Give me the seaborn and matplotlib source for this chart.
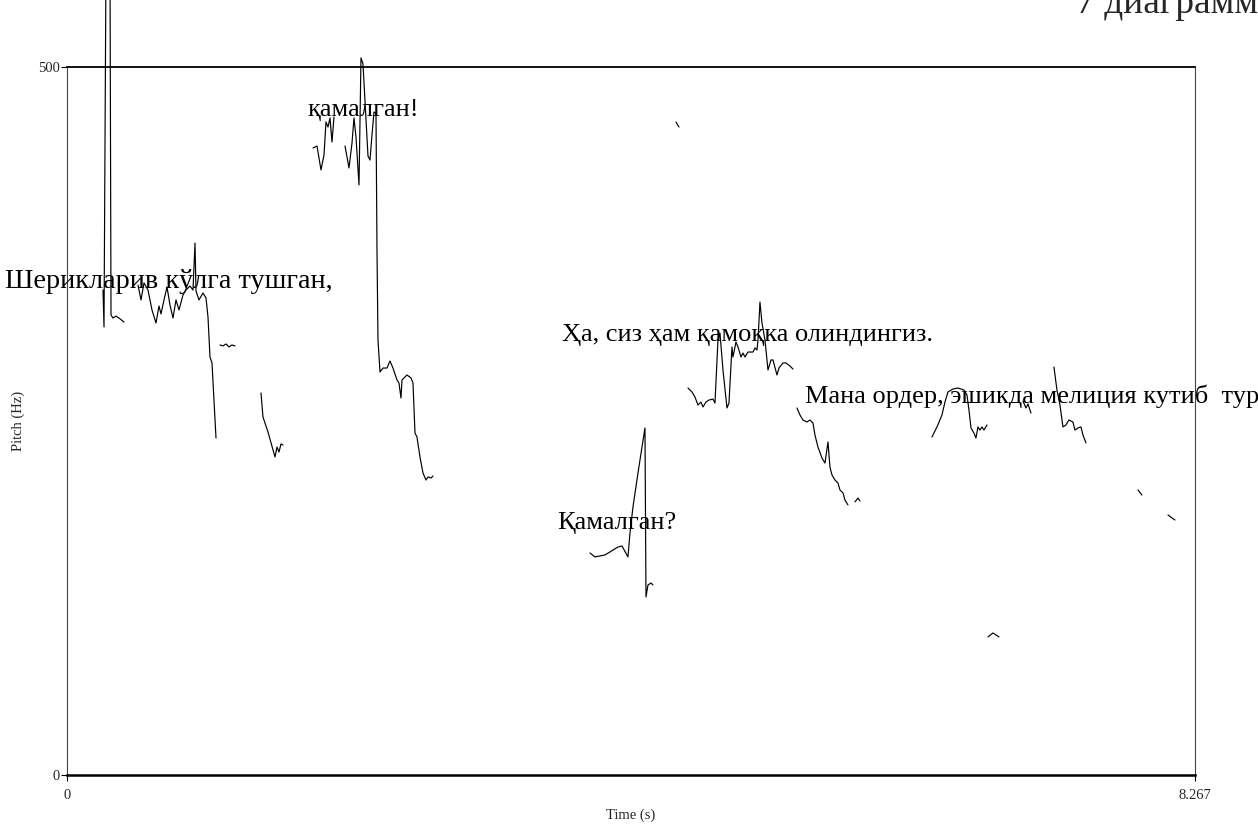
import numpy as np
import pandas as pd
import matplotlib
matplotlib.use("Agg")
import matplotlib.pyplot as plt
import seaborn as sns

# ---------------- data (time in s, pitch in Hz) ----------------
seg01_t = [0.2638, 0.2712, 0.2858, 0.3151, 0.3225, 0.3371, 0.3591, 0.3811, 0.4177]
seg01_f = [342.5, 316.4, 574.9, 574.9, 324.9, 322.7, 324.1, 322.7, 319.9]

seg02_t = [0.5203, 0.5423, 0.5643, 0.5936, 0.6229, 0.6522, 0.6742, 0.6889, 0.7109,
           0.7329, 0.7548, 0.7768, 0.7988, 0.8208, 0.8501, 0.8721, 0.9014, 0.9234,
           0.9381, 0.9454, 0.9674, 0.9967, 1.0187, 1.0333, 1.0480, 1.0626, 1.0920]
seg02_f = [346.0, 335.5, 347.5, 342.5, 328.4, 319.2, 331.2, 325.6, 335.5,
           344.6, 331.9, 322.7, 335.5, 328.4, 339.0, 342.5, 345.3, 342.5,
           375.7, 341.8, 335.5, 340.4, 336.9, 323.4, 295.2, 291.0, 238.0]

seg03_t = [1.1213, 1.1433, 1.1652, 1.1872, 1.2092, 1.2312]
seg03_f = [303.7, 303.0, 304.4, 302.3, 303.7, 303.0]

seg04_t = [1.4217, 1.4364, 1.4731, 1.5243, 1.5390, 1.5537, 1.5683, 1.5830]
seg04_f = [269.8, 252.8, 242.2, 224.6, 231.6, 228.1, 233.8, 233.0]

seg05_t = [1.8028, 1.8322, 1.8615, 1.8835, 1.8981, 1.9128, 1.9274, 1.9421, 1.9567]
seg05_f = [442.8, 444.2, 427.3, 437.9, 461.2, 457.6, 464.0, 447.0, 464.7]

seg06_t = [2.0374, 2.0667, 2.0887, 2.1033, 2.1180, 2.1400, 2.1546, 2.1693, 2.2059,
           2.2206, 2.2352, 2.2499, 2.2645, 2.2719, 2.2792, 2.2939, 2.3158, 2.3452,
           2.3671, 2.3891, 2.4184, 2.4331, 2.4477, 2.4551, 2.4771, 2.4917, 2.5210,
           2.5357, 2.5504, 2.5650, 2.5870, 2.6090, 2.6310, 2.6456, 2.6676, 2.6823]
seg06_f = [444.2, 428.7, 446.3, 464.0, 450.6, 416.7, 506.4, 502.1, 437.1,
           434.3, 452.0, 468.2, 467.5, 370.8, 307.2, 284.6, 287.4, 287.4,
           292.4, 287.4, 279.0, 276.8, 266.2, 279.0, 281.1, 282.5, 280.4,
           276.8, 241.5, 238.7, 224.6, 213.3, 208.3, 210.5, 209.7, 211.2]

seg07_t = [4.4631, 4.4851]
seg07_f = [461.2, 457.6]

seg08_t = [3.8329, 3.8695, 3.9061, 3.9428, 3.9794, 4.0014, 4.0381, 4.0674, 4.1113,
           4.1260, 4.1480, 4.1846, 4.2359, 4.2433, 4.2579, 4.2799, 4.2946]
seg08_f = [156.8, 154.0, 154.7, 155.4, 157.5, 158.9, 161.0, 161.7, 154.0,
           170.9, 189.3, 213.3, 245.1, 125.7, 134.2, 135.6, 134.2]

seg09_t = [4.5511, 4.5804, 4.6024, 4.6243, 4.6463, 4.6610, 4.6830, 4.7050, 4.7343,
           4.7489, 4.7709, 4.7856, 4.8076, 4.8369, 4.8515, 4.8735, 4.8809, 4.9028,
           4.9175, 4.9395, 4.9541, 4.9688, 4.9908, 5.0274, 5.0421, 5.0567, 5.0641,
           5.0787, 5.0934, 5.1154, 5.1374, 5.1593, 5.1740, 5.2033, 5.2180, 5.2473,
           5.2693, 5.2986, 5.3206]
seg09_f = [273.3, 270.5, 266.9, 261.3, 263.4, 259.9, 263.4, 264.8, 265.5,
           262.7, 307.2, 312.1, 286.0, 259.2, 262.7, 302.3, 295.2, 305.8,
           302.3, 295.2, 298.0, 295.2, 298.7, 298.7, 301.6, 300.1, 307.2,
           334.0, 319.2, 307.2, 286.0, 293.1, 293.1, 282.5, 287.4, 291.0,
           291.0, 288.8, 286.7]

seg10_t = [5.3499, 5.3719, 5.3938, 5.4232, 5.4451, 5.4671, 5.4818, 5.5038, 5.5331,
           5.5551, 5.5771, 5.5917, 5.6064, 5.6284, 5.6503, 5.6650, 5.6870, 5.7017, 5.7236]
seg10_f = [259.2, 254.2, 250.7, 249.3, 250.7, 248.6, 240.1, 231.6, 223.9,
           220.3, 235.2, 217.5, 211.9, 208.3, 206.2, 201.3, 199.2, 194.2, 190.7]

seg11_t = [5.7749, 5.7969, 5.8116]
seg11_f = [192.8, 195.6, 193.5]

seg12_t = [6.3392, 6.3759, 6.4125, 6.4345, 6.4565, 6.4931, 6.5298, 6.5738, 6.5957,
           6.6104, 6.6251, 6.6470, 6.6617, 6.6764, 6.6910, 6.7057, 6.7203, 6.7423]
seg12_f = [238.7, 245.8, 254.2, 263.4, 270.5, 272.6, 273.3, 271.9, 268.4,
           257.8, 245.1, 241.5, 238.0, 245.8, 243.6, 245.8, 243.6, 247.2]

seg13_t = [7.0061, 7.0281, 7.0428, 7.0648]
seg13_f = [264.1, 259.2, 262.0, 255.6]

seg14_t = [7.2333, 7.2553, 7.2773, 7.2993, 7.3212, 7.3432, 7.3725, 7.3872, 7.4092,
           7.4312, 7.4458, 7.4678]
seg14_f = [288.1, 271.9, 261.3, 245.8, 247.2, 250.7, 249.3, 243.6, 245.1,
           245.8, 240.1, 234.5]

seg15_t = [7.8489, 7.8782]
seg15_f = [201.3, 197.7]

seg16_t = [8.0688, 8.1201]
seg16_f = [183.6, 180.1]

seg17_t = [6.7496, 6.7862, 6.8303]
seg17_f = [97.5, 100.3, 97.5]

segments = [(seg01_t, seg01_f), (seg02_t, seg02_f), (seg03_t, seg03_f), (seg04_t, seg04_f),
            (seg05_t, seg05_f), (seg06_t, seg06_f), (seg07_t, seg07_f), (seg08_t, seg08_f),
            (seg09_t, seg09_f), (seg10_t, seg10_f), (seg11_t, seg11_f), (seg12_t, seg12_f),
            (seg13_t, seg13_f), (seg14_t, seg14_f), (seg15_t, seg15_f), (seg16_t, seg16_f),
            (seg17_t, seg17_f)]

labels_text = ["Шерикларив кўлга тушган,", "қамалган!", "Ҳа, сиз ҳам қамоқка олиндингиз.",
               "Мана ордер, эшикда мелиция кутиб  тур", "Қамалган?"]
labels_t = [-0.454, 1.766, 3.628, 5.409, 3.591]
labels_f = [348.2, 469.6, 310.7, 267.7, 178.0]
labels_size = [20.3, 19, 19, 19, 19]

x_ticks = [0, 8.267]
x_ticklabels = ["0", "8.267"]
y_ticks = [0, 500]
y_ticklabels = ["0", "500"]
title_text = "7 диаграмм"

# ---------------- plot ----------------
sns.set_style("white")
plt.rcParams['font.family'] = ['Liberation Serif', 'DejaVu Serif']

fig = plt.figure(figsize=(12.58, 8.26), dpi=100)
ax = fig.add_axes([67 / 1258, 1 - 775 / 826, (1195 - 67) / 1258, (775 - 67) / 826])

rows = []
for i, (ts, fs) in enumerate(segments):
    for t, f in zip(ts, fs):
        rows.append({"seg": i, "t": t, "f": f})
df = pd.DataFrame(rows)

for i, g in df.groupby("seg"):
    sns.lineplot(data=g, x="t", y="f", ax=ax, color="black", linewidth=0.85,
                 estimator=None, sort=False, legend=False)
for ln in ax.lines:
    ln.set_clip_on(False)

ax.set_xlim(0, 8.267)
ax.set_ylim(0, 500)
ax.set_xticks(x_ticks)
ax.set_xticklabels(x_ticklabels)
ax.set_yticks(y_ticks)
ax.set_yticklabels(y_ticklabels)
ax.tick_params(axis="both", labelsize=10.5, length=4, width=0.8, color="black", direction="out",
               left=True, bottom=True)
ax.tick_params(axis="x", pad=6)
ax.tick_params(axis="y", pad=1)

ax.set_xlabel("Time (s)", fontsize=10.5)
ax.set_ylabel("Pitch (Hz)", fontsize=10.5)
ax.xaxis.set_label_coords(0.5, -(815 - 775) / 708)
ax.xaxis.label.set_va("center")
ax.yaxis.set_label_coords(-(67 - 18) / 1128, 0.5)
ax.yaxis.label.set_va("center")

for side, lw in (("bottom", 1.8), ("top", 1.3), ("left", 0.8), ("right", 0.8)):
    ax.spines[side].set_visible(True)
    ax.spines[side].set_linewidth(lw)
    ax.spines[side].set_color("black" if side in ("bottom", "top") else "#444444")

for txt, t, f, s in zip(labels_text, labels_t, labels_f, labels_size):
    ax.text(t, f, txt, fontsize=s, ha="left", va="center", clip_on=False, color="black")

fig.text(1076 / 1258, 1 - 13 / 826, title_text, fontsize=27, ha="left", va="baseline")

fig.savefig("out.png", dpi=100, facecolor="white")
